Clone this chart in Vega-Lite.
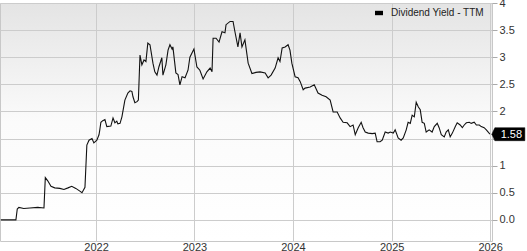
{
  "$schema": "https://vega.github.io/schema/vega-lite/v6.json",
  "width": 492,
  "height": 238,
  "autosize": "none",
  "padding": {"left": 0, "top": 3, "right": 35, "bottom": 10},
  "background": "#ffffff",
  "config": {
    "font": "Liberation Sans",
    "view": {
      "stroke": "#c8c8c8",
      "strokeWidth": 1,
      "fill": {"gradient": "linear", "x1": 0, "y1": 0, "x2": 0, "y2": 1, "stops": [{"offset": 0, "color": "#e4e4e4"}, {"offset": 0.5, "color": "#fbfbfb"}, {"offset": 1, "color": "#ffffff"}]}
    },
    "axis": {"gridColor": "#cccccc", "gridWidth": 1, "labelFont": "Liberation Sans", "labelFontSize": 11, "labelColor": "#333333", "domain": false}
  },
  "data": {"values": [
    {"date": "2021-01-13", "value": 0}, {"date": "2021-03-10", "value": 0}, {"date": "2021-03-15", "value": 0.2}, {"date": "2021-03-21", "value": 0.23}, {"date": "2021-04-08", "value": 0.21}, {"date": "2021-05-01", "value": 0.22}, {"date": "2021-05-30", "value": 0.23}, {"date": "2021-06-22", "value": 0.22}, {"date": "2021-06-27", "value": 0.78}, {"date": "2021-07-06", "value": 0.72}, {"date": "2021-07-18", "value": 0.62}, {"date": "2021-08-01", "value": 0.59}, {"date": "2021-08-20", "value": 0.58}, {"date": "2021-09-04", "value": 0.56}, {"date": "2021-09-19", "value": 0.59}, {"date": "2021-10-03", "value": 0.62}, {"date": "2021-10-18", "value": 0.58}, {"date": "2021-11-02", "value": 0.53}, {"date": "2021-11-10", "value": 0.5}, {"date": "2021-11-21", "value": 0.6}, {"date": "2021-11-28", "value": 1.38}, {"date": "2021-12-06", "value": 1.47}, {"date": "2021-12-17", "value": 1.5}, {"date": "2021-12-24", "value": 1.42},
    {"date": "2022-01-04", "value": 1.47}, {"date": "2022-01-12", "value": 1.57}, {"date": "2022-01-15", "value": 1.66}, {"date": "2022-01-19", "value": 1.8}, {"date": "2022-01-26", "value": 1.83}, {"date": "2022-02-03", "value": 1.85}, {"date": "2022-02-10", "value": 1.72}, {"date": "2022-02-25", "value": 1.73}, {"date": "2022-03-05", "value": 1.88}, {"date": "2022-03-12", "value": 1.79}, {"date": "2022-03-19", "value": 1.82}, {"date": "2022-03-23", "value": 1.77}, {"date": "2022-03-31", "value": 1.78}, {"date": "2022-04-07", "value": 1.9}, {"date": "2022-04-18", "value": 2.21}, {"date": "2022-04-29", "value": 2.34}, {"date": "2022-05-07", "value": 2.38}, {"date": "2022-05-14", "value": 2.37}, {"date": "2022-05-18", "value": 2.27}, {"date": "2022-05-25", "value": 2.16}, {"date": "2022-06-02", "value": 2.18}, {"date": "2022-06-07", "value": 2.21}, {"date": "2022-06-13", "value": 3.04}, {"date": "2022-06-20", "value": 2.86}, {"date": "2022-06-28", "value": 2.95}, {"date": "2022-07-05", "value": 2.92}, {"date": "2022-07-12", "value": 3.26}, {"date": "2022-07-20", "value": 3.23}, {"date": "2022-07-31", "value": 2.89}, {"date": "2022-08-07", "value": 2.73}, {"date": "2022-08-15", "value": 2.67}, {"date": "2022-08-22", "value": 2.82}, {"date": "2022-09-02", "value": 2.99}, {"date": "2022-09-06", "value": 2.67}, {"date": "2022-09-17", "value": 2.86}, {"date": "2022-09-25", "value": 3.13}, {"date": "2022-10-02", "value": 3.23}, {"date": "2022-10-10", "value": 3.15}, {"date": "2022-10-13", "value": 3.19}, {"date": "2022-10-24", "value": 2.71}, {"date": "2022-11-01", "value": 2.68}, {"date": "2022-11-08", "value": 2.49}, {"date": "2022-11-16", "value": 2.64}, {"date": "2022-11-27", "value": 2.62}, {"date": "2022-12-08", "value": 2.76}, {"date": "2022-12-15", "value": 3.0}, {"date": "2022-12-30", "value": 3.15},
    {"date": "2023-01-10", "value": 2.82}, {"date": "2023-01-21", "value": 2.76}, {"date": "2023-02-02", "value": 2.6}, {"date": "2023-02-16", "value": 2.73}, {"date": "2023-02-28", "value": 2.8}, {"date": "2023-03-07", "value": 2.73}, {"date": "2023-03-11", "value": 3.35}, {"date": "2023-03-22", "value": 3.35}, {"date": "2023-04-02", "value": 3.28}, {"date": "2023-04-13", "value": 3.47}, {"date": "2023-04-24", "value": 3.45}, {"date": "2023-04-28", "value": 3.6}, {"date": "2023-05-13", "value": 3.66}, {"date": "2023-05-24", "value": 3.66}, {"date": "2023-05-31", "value": 3.47}, {"date": "2023-06-11", "value": 3.19}, {"date": "2023-06-19", "value": 3.45}, {"date": "2023-06-26", "value": 3.19}, {"date": "2023-07-07", "value": 3.32}, {"date": "2023-07-19", "value": 2.89}, {"date": "2023-08-02", "value": 2.7}, {"date": "2023-08-17", "value": 2.72}, {"date": "2023-09-01", "value": 2.73}, {"date": "2023-09-20", "value": 2.71}, {"date": "2023-10-01", "value": 2.62}, {"date": "2023-10-12", "value": 2.67}, {"date": "2023-10-27", "value": 2.8}, {"date": "2023-11-07", "value": 2.99}, {"date": "2023-11-14", "value": 2.92}, {"date": "2023-11-22", "value": 3.17}, {"date": "2023-12-03", "value": 3.19}, {"date": "2023-12-14", "value": 3.23}, {"date": "2023-12-21", "value": 3.13}, {"date": "2023-12-28", "value": 2.89},
    {"date": "2024-01-09", "value": 2.64}, {"date": "2024-01-20", "value": 2.62}, {"date": "2024-01-28", "value": 2.55}, {"date": "2024-02-08", "value": 2.4}, {"date": "2024-02-15", "value": 2.43}, {"date": "2024-03-05", "value": 2.45}, {"date": "2024-03-20", "value": 2.49}, {"date": "2024-04-03", "value": 2.34}, {"date": "2024-04-18", "value": 2.3}, {"date": "2024-05-03", "value": 2.27}, {"date": "2024-05-18", "value": 2.21}, {"date": "2024-05-29", "value": 1.99}, {"date": "2024-06-13", "value": 1.99}, {"date": "2024-06-24", "value": 1.88}, {"date": "2024-07-05", "value": 1.8}, {"date": "2024-07-20", "value": 1.79}, {"date": "2024-07-31", "value": 1.72}, {"date": "2024-08-11", "value": 1.75}, {"date": "2024-08-19", "value": 1.57}, {"date": "2024-08-30", "value": 1.7}, {"date": "2024-09-10", "value": 1.8}, {"date": "2024-09-17", "value": 1.7}, {"date": "2024-09-25", "value": 1.62}, {"date": "2024-10-06", "value": 1.6}, {"date": "2024-10-21", "value": 1.59}, {"date": "2024-11-01", "value": 1.6}, {"date": "2024-11-08", "value": 1.44}, {"date": "2024-11-19", "value": 1.44}, {"date": "2024-11-27", "value": 1.47}, {"date": "2024-12-08", "value": 1.62}, {"date": "2024-12-19", "value": 1.6}, {"date": "2024-12-27", "value": 1.62},
    {"date": "2025-01-07", "value": 1.6}, {"date": "2025-01-14", "value": 1.66}, {"date": "2025-01-25", "value": 1.51}, {"date": "2025-02-05", "value": 1.47}, {"date": "2025-02-13", "value": 1.51}, {"date": "2025-02-24", "value": 1.66}, {"date": "2025-03-03", "value": 1.8}, {"date": "2025-03-11", "value": 1.78}, {"date": "2025-03-18", "value": 1.93}, {"date": "2025-03-26", "value": 1.9}, {"date": "2025-04-02", "value": 2.17}, {"date": "2025-04-10", "value": 2.08}, {"date": "2025-04-17", "value": 2.03}, {"date": "2025-04-24", "value": 1.8}, {"date": "2025-05-02", "value": 1.78}, {"date": "2025-05-09", "value": 1.62}, {"date": "2025-05-20", "value": 1.66}, {"date": "2025-05-31", "value": 1.62}, {"date": "2025-06-08", "value": 1.72}, {"date": "2025-06-19", "value": 1.78}, {"date": "2025-06-26", "value": 1.7}, {"date": "2025-07-04", "value": 1.57}, {"date": "2025-07-15", "value": 1.53}, {"date": "2025-07-22", "value": 1.62}, {"date": "2025-07-30", "value": 1.66}, {"date": "2025-08-06", "value": 1.53}, {"date": "2025-08-14", "value": 1.6}, {"date": "2025-08-25", "value": 1.72}, {"date": "2025-09-01", "value": 1.79}, {"date": "2025-09-12", "value": 1.75}, {"date": "2025-09-20", "value": 1.7}, {"date": "2025-09-27", "value": 1.75}, {"date": "2025-10-05", "value": 1.79}, {"date": "2025-10-16", "value": 1.8}, {"date": "2025-10-23", "value": 1.78}, {"date": "2025-11-03", "value": 1.8}, {"date": "2025-11-11", "value": 1.75}, {"date": "2025-11-22", "value": 1.75}, {"date": "2025-11-29", "value": 1.72}, {"date": "2025-12-10", "value": 1.7}, {"date": "2025-12-18", "value": 1.66}, {"date": "2025-12-25", "value": 1.62}, {"date": "2025-12-31", "value": 1.58}
  ]},
  "encoding": {
    "x": {
      "field": "date", "type": "temporal",
      "scale": {"domain": ["2021-01-10", "2026-01-08"]},
      "axis": {"title": null, "format": "%Y", "tickCount": {"interval": "year", "step": 1}, "ticks": false, "labelPadding": 0, "labelFlush": false, "labelOverlap": false, "grid": true}
    },
    "y": {
      "field": "value", "type": "quantitative",
      "scale": {"domain": [-0.39, 4], "nice": false, "zero": false},
      "axis": {"title": null, "orient": "right", "values": [0, 0.5, 1, 1.5, 2, 2.5, 3, 3.5, 4], "labelExpr": "datum.value == 0 ? '0.0' : (datum.value == 1.5 ? '' : format(datum.value, ''))", "ticks": true, "tickSize": 5, "tickColor": "#aaaaaa", "labelPadding": 2, "labelFlush": false, "grid": true}
    }
  },
  "layer": [
    {
      "mark": {"type": "line", "strokeWidth": 1.1, "interpolate": "linear"},
      "encoding": {
        "color": {"datum": "Dividend Yield - TTM", "type": "nominal", "scale": {"range": ["#111111"]},
          "legend": {"title": null, "orient": "none", "legendX": 374, "legendY": 5, "padding": 0, "labelFontSize": 10, "labelColor": "#222222", "labelFont": "Liberation Sans", "symbolType": "M-1,-0.55H1V0.55H-1Z", "symbolSize": 64, "labelOffset": 7,
            "encode": {"symbols": {"update": {"fill": {"value": "#000000"}, "strokeWidth": {"value": 0}}}}}}
      }
    },
    {
      "transform": [{"joinaggregate": [{"op": "max", "field": "date", "as": "maxd"}]}, {"filter": "time(datum.date) == time(datum.maxd)"}],
      "mark": {"type": "point", "shape": "M0.2,0L0.5,-0.65L3.5,-0.65L3.5,0.65L0.5,0.65Z", "size": 400, "filled": true, "fill": "#000000", "stroke": "#000000", "strokeWidth": 0.5, "fillOpacity": 1, "opacity": 1}
    },
    {
      "transform": [{"joinaggregate": [{"op": "max", "field": "date", "as": "maxd"}]}, {"filter": "time(datum.date) == time(datum.maxd)"}],
      "mark": {"type": "text", "dx": 21.5, "dy": 1, "align": "center", "baseline": "middle", "fontSize": 11, "font": "Liberation Sans", "fill": "#ffffff"},
      "encoding": {"text": {"field": "value", "type": "quantitative", "format": ".2f"}}
    }
  ]
}
